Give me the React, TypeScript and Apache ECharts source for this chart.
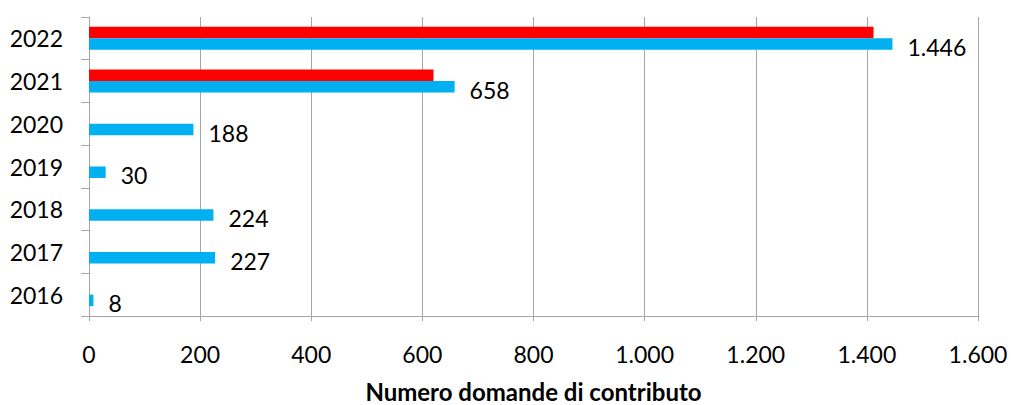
import React, { useEffect, useRef } from "react";
import * as echarts from "echarts";

// Anni (asse delle categorie, dal basso verso l'alto)
const years = ["2016", "2017", "2018", "2019", "2020", "2021", "2022"];
// Domande di contributo presentate
const domande = [8, 227, 224, 30, 188, 658, 1446];
// Seconda serie (solo 2021 e 2022)
const domandeRosse = [null, null, null, null, null, 620, 1412];
// Scala dell'asse orizzontale
const axisMin = 0;
const axisMax = 1600;
const axisStep = 200;
const axisTitle = "Numero domande di contributo";

const BLUE = "#00B0F0";
const RED = "#FF0000";
const GRID = "#A6A6A6";
const FONT = "Lato, 'Noto Sans', sans-serif";

// Separatore delle migliaia all'italiana: 1446 -> "1.446"
function fmt(v: number | string): string {
  return String(v).replace(/\B(?=(\d{3})+(?!\d))/g, ".");
}

export default function App() {
  const ref = useRef<HTMLDivElement>(null);

  useEffect(() => {
    if (!ref.current) return;
    const chart = echarts.init(ref.current, undefined, { renderer: "svg" });
    chart.setOption({
      animation: false,
      backgroundColor: "#ffffff",
      textStyle: { fontFamily: FONT },
      grid: {
        left: 89,
        right: 33,
        top: 17,
        bottom: 89,
        containLabel: false,
        outerBoundsMode: "none",
      },
      xAxis: {
        type: "value",
        min: axisMin,
        max: axisMax,
        interval: axisStep,
        name: axisTitle,
        nameLocation: "middle",
        nameGap: 63,
        nameTextStyle: {
          fontFamily: FONT,
          fontWeight: "bold",
          fontSize: 24,
          color: "#000",
        },
        axisLine: { show: true, lineStyle: { color: GRID, width: 1 } },
        axisTick: { show: true, length: 5, lineStyle: { color: GRID, width: 1 } },
        splitLine: { show: true, lineStyle: { color: GRID, width: 1 } },
        axisLabel: {
          margin: 26,
          fontSize: 23,
          color: "#000",
          fontFamily: FONT,
          formatter: (v: number) => fmt(v),
        },
      },
      yAxis: {
        type: "category",
        data: years,
        axisLine: { show: true, lineStyle: { color: GRID, width: 1 } },
        axisTick: { show: true, length: 8, lineStyle: { color: GRID, width: 1 } },
        splitLine: { show: false },
        axisLabel: {
          margin: 26,
          fontSize: 23,
          color: "#000",
          fontFamily: FONT,
          padding: [6, 0, 0, 0],
        },
      },
      series: [
        {
          type: "bar",
          data: domandeRosse,
          barWidth: 11.5,
          barGap: "0%",
          itemStyle: { color: RED },
          label: { show: false },
        },
        {
          type: "bar",
          data: domande,
          barWidth: 11.5,
          barGap: "0%",
          itemStyle: { color: BLUE },
          label: {
            show: true,
            position: "right",
            distance: 15,
            offset: [0, 3],
            fontSize: 23,
            color: "#000",
            fontFamily: FONT,
            formatter: (p: any) => fmt(p.value),
          },
        },
      ],
    });
    return () => chart.dispose();
  }, []);

  return (
    <div
      ref={ref}
      style={{ position: "fixed", left: 0, top: 0, width: 1011, height: 405 }}
    />
  );
}
